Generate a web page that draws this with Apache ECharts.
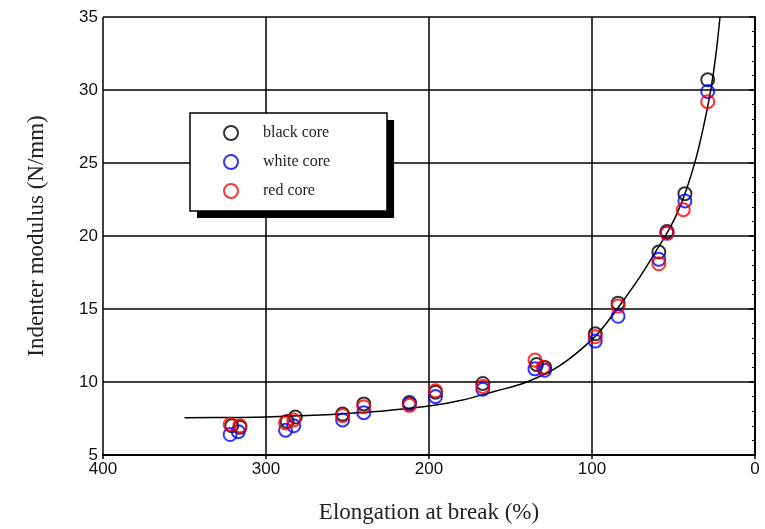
<!DOCTYPE html>
<html>
<head>
<meta charset="utf-8">
<script src="https://cdn.jsdelivr.net/npm/echarts@6/dist/echarts.min.js"></script>
<style>html,body{margin:0;padding:0;background:#fff}#chart{width:765px;height:529px}</style>
</head>
<body>
<div id="chart"></div>
<script>
// Data: [elongation %, indenter modulus N/mm]
const blackCore = [[321,7.0],[316,6.9],[287,7.3],[282,7.6],[253,7.8],[240,8.5],[212,8.6],[196,9.3],[167,9.9],[134,11.2],[129,11.0],[98,13.3],[84,15.4],[59,18.9],[54,20.3],[43,22.9],[29,30.7]];
const whiteCore = [[322,6.4],[317,6.6],[288,6.7],[283,7.0],[253,7.4],[240,7.9],[212,8.5],[196,9.0],[167,9.5],[135,10.9],[129,10.8],[98,12.8],[84,14.5],[59,18.4],[54,20.2],[43,22.4],[29,29.9]];
const redCore = [[322,7.1],[316,7.0],[288,7.2],[283,7.4],[253,7.7],[240,8.3],[212,8.4],[196,9.4],[167,9.7],[135,11.5],[130,11.0],[98,13.1],[84,15.2],[59,18.1],[54,20.2],[44,21.8],[29,29.2]];
const fitX = [350,320,300,275,250,225,200,180,160,140,120,100,90,80,70,60,54,48,42,36,31,27,24,21.5];
const fitY = [7.55,7.57,7.6,7.7,7.85,8.05,8.35,8.75,9.35,10.0,11.1,12.9,14.2,15.7,17.3,19.1,20.2,21.5,23.2,25.4,27.8,30.1,32.4,35.0];
const xTicks = [0,100,200,300,400];
const yTicks = [5,10,15,20,25,30,35];
const seriesNames = ['black core','white core','red core'];
const seriesColors = ['#000000','#0000ff','#ff0000'];

const chart = echarts.init(document.getElementById('chart'));
const fit = fitX.map((x,i)=>[x,fitY[i]]);
const scatterSets = [blackCore, whiteCore, redCore];
const serif = '"Liberation Serif","DejaVu Serif",serif';
const sans = '"Liberation Sans",Arial,sans-serif';
const option = {
  backgroundColor:'#fff',
  animation:false,
  grid:{left:103,right:10,top:17,bottom:74},
  legend:{
    orient:'vertical', left:190, top:113,
    data:seriesNames,
    backgroundColor:'#fff', borderWidth:0,
    shadowColor:'#000', shadowBlur:0, shadowOffsetX:7, shadowOffsetY:7,
    padding:[12,57,12,33], itemGap:13, itemWidth:14, itemHeight:14,
    textStyle:{fontFamily:serif,fontSize:16,color:'#222',padding:[0,0,0,20]}
  },
  graphic:[{
    type:'rect', z:100, silent:true,
    shape:{x:190,y:113,width:197,height:98},
    style:{fill:null,stroke:'#000',lineWidth:1.5}
  }],
  xAxis:{
    type:'value', min:xTicks[0], max:xTicks[xTicks.length-1], interval:100, inverse:true,
    name:'Elongation at break (%)', nameLocation:'middle', nameGap:46,
    nameTextStyle:{fontFamily:serif,fontSize:23,color:'#222'},
    axisLine:{lineStyle:{color:'#000',width:2}},
    axisTick:{show:true,inside:false,length:4,lineStyle:{color:'#000',width:1.5}},
    axisLabel:{fontFamily:sans,fontSize:17,color:'#111',margin:6},
    splitLine:{show:true,lineStyle:{color:'#000',width:1.5}}
  },
  yAxis:{
    type:'value', min:yTicks[0], max:yTicks[yTicks.length-1], interval:5,
    name:'Indenter modulus (N/mm)', nameLocation:'middle', nameGap:55,
    nameTextStyle:{fontFamily:serif,fontSize:23,color:'#222'},
    axisLine:{show:true,lineStyle:{color:'#000',width:2}},
    axisTick:{show:true,inside:false,length:6,lineStyle:{color:'#000',width:1.5}},
    minorTick:{show:true,splitNumber:5,length:3,lineStyle:{color:'#000',width:1}},
    axisLabel:{fontFamily:sans,fontSize:17,color:'#111',margin:5},
    splitLine:{show:true,lineStyle:{color:'#000',width:1.5}}
  },
  series:[
    {type:'line', name:'fit', data:fit, smooth:0.4, symbol:'none', silent:true,
     lineStyle:{color:'#000',width:1.5}, z:1}
  ].concat(scatterSets.map((d,i)=>({
    type:'scatter', name:seriesNames[i], data:d, symbol:'circle', symbolSize:13,
    itemStyle:{color:'rgba(0,0,0,0)', borderColor:seriesColors[i], borderWidth:2},
    z:2+i
  })))
};
chart.setOption(option);
</script>
</body>
</html>
